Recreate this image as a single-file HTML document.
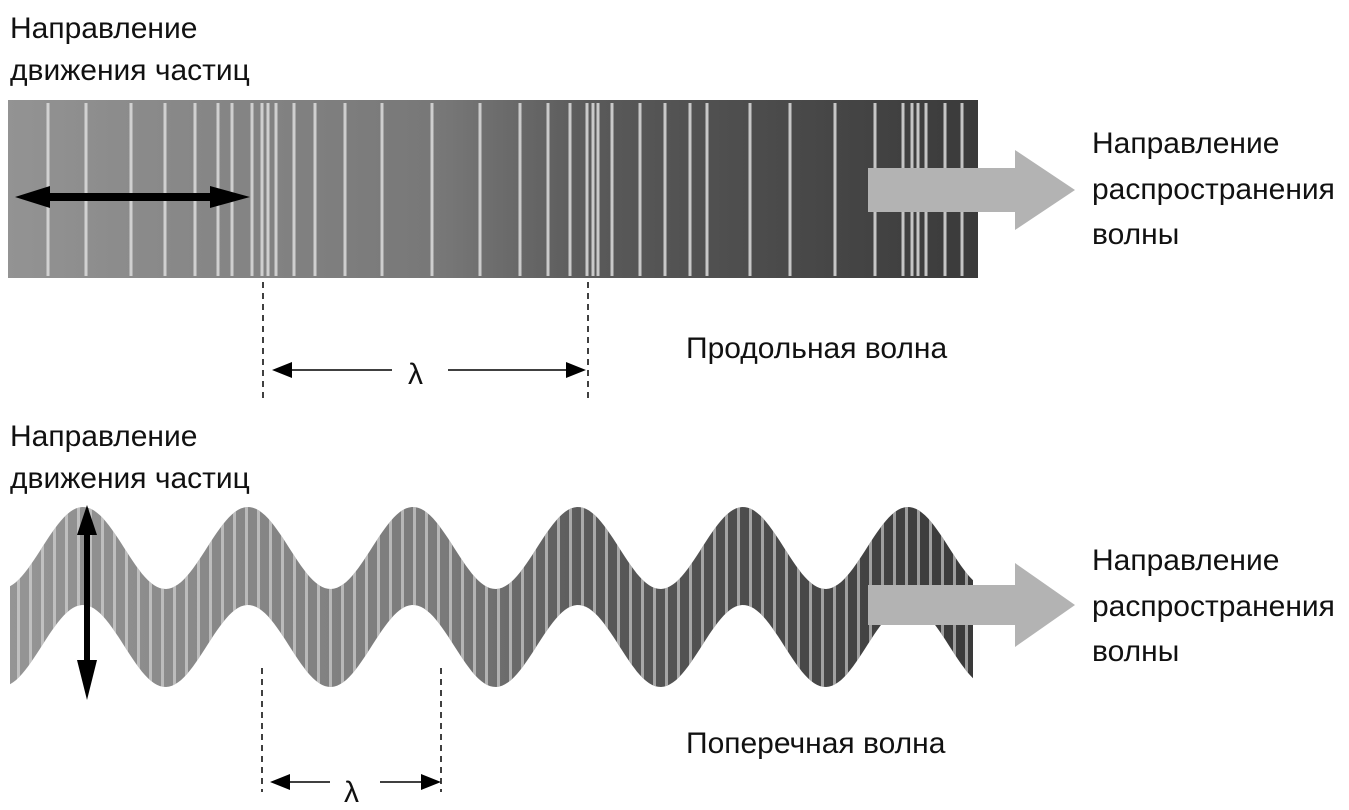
<!DOCTYPE html><html><head><meta charset="utf-8"><style>body{margin:0;background:#fff}svg{display:block}text{font-family:"Liberation Sans",sans-serif;font-size:30px;fill:#111}</style></head><body>
<svg width="1349" height="810" viewBox="0 0 1349 810">
<defs>
<linearGradient id="g" x1="0" x2="1"><stop offset="0" stop-color="#939393"/><stop offset="0.45" stop-color="#777"/><stop offset="0.6" stop-color="#5a5a5a"/><stop offset="1" stop-color="#3a3a3a"/></linearGradient>
<linearGradient id="g2" gradientUnits="userSpaceOnUse" x1="10" x2="975"><stop offset="0" stop-color="#959595"/><stop offset="0.45" stop-color="#7a7a7a"/><stop offset="0.6" stop-color="#5a5a5a"/><stop offset="1" stop-color="#3a3a3a"/></linearGradient>
<pattern id="st" width="12" height="10" patternUnits="userSpaceOnUse"><rect x="5" width="3" height="10" fill="#ddd" opacity="0.8"/></pattern>
</defs>
<text x="10" y="38">Направление</text><text x="10" y="80">движения частиц</text>
<rect x="8" y="100" width="970" height="178" fill="url(#g)"/>
<g stroke="#ddd" stroke-width="3" opacity="0.85">
<path d="M48 103V276M86 103V276M131 103V276M165 103V276M195 103V276M218 103V276M232 103V276M252 103V276M262 103V276M268 103V276M276 103V276M294 103V276M315 103V276M345 103V276M382 103V276M432 103V276M480 103V276M520 103V276M548 103V276M570 103V276M587 103V276M593 103V276M598 103V276M612 103V276M640 103V276M665 103V276M690 103V276M707 103V276M750 103V276M790 103V276M835 103V276M875 103V276M903 103V276M912 103V276M918 103V276M926 103V276M945 103V276M962 103V276"/>
</g>
<path d="M868 168H1015V150L1075 190L1015 230V212H868Z" fill="#b3b3b3"/>
<path d="M15 197L50 186V193H210V186L250 197L210 208V201H50V208Z" fill="#000"/>
<text x="1092" y="153">Направление</text><text x="1092" y="199">распространения</text><text x="1092" y="244">волны</text>
<g stroke="#000" stroke-width="1.5" stroke-dasharray="6,5"><path d="M263 282V402M588 282V402M262 668V792M441 668V792"/></g>
<g stroke="#000" stroke-width="1.5"><path d="M290 370H392M448 370H570M288 782H330M380 782H424"/></g>
<path d="M272 370L292 362V378ZM586 370L566 362V378ZM270 782L290 774V790ZM441 782L421 774V790Z" fill="#000"/>
<text x="408" y="384">λ</text><text x="344" y="802">λ</text>
<text x="686" y="358">Продольная волна</text>
<text x="10" y="446">Направление</text><text x="10" y="488">движения частиц</text>
<g id="wave"></g>
<path d="M868 585H1015V563L1075 605L1015 647V625H868Z" fill="#b3b3b3"/>
<path d="M87 505L97 535H90V660H97L87 700L77 660H84V535H77Z" fill="#000"/>
<text x="1092" y="570">Направление</text><text x="1092" y="616">распространения</text><text x="1092" y="661">волны</text>
<text x="686" y="753">Поперечная волна</text>
</svg>
<script>
(function(){
var tp=[],bt=[];
for(var x=10;x<=975;x+=3){var c=Math.cos(2*Math.PI*(x-83)/165);tp.push(x+','+(548-41*c).toFixed(1));bt.push(x+','+(646-41*c).toFixed(1));}
var d='M'+tp.join(' L')+' L'+bt.reverse().join(' L')+'Z';
var g=document.getElementById('wave');
var ns='http://www.w3.org/2000/svg';
var p1=document.createElementNS(ns,'path');p1.setAttribute('d',d);p1.setAttribute('fill','url(#g2)');g.appendChild(p1);
var p2=document.createElementNS(ns,'path');p2.setAttribute('d',d);p2.setAttribute('fill','url(#st)');p2.setAttribute('opacity','0.75');g.appendChild(p2);
})();
</script>
</body></html>
